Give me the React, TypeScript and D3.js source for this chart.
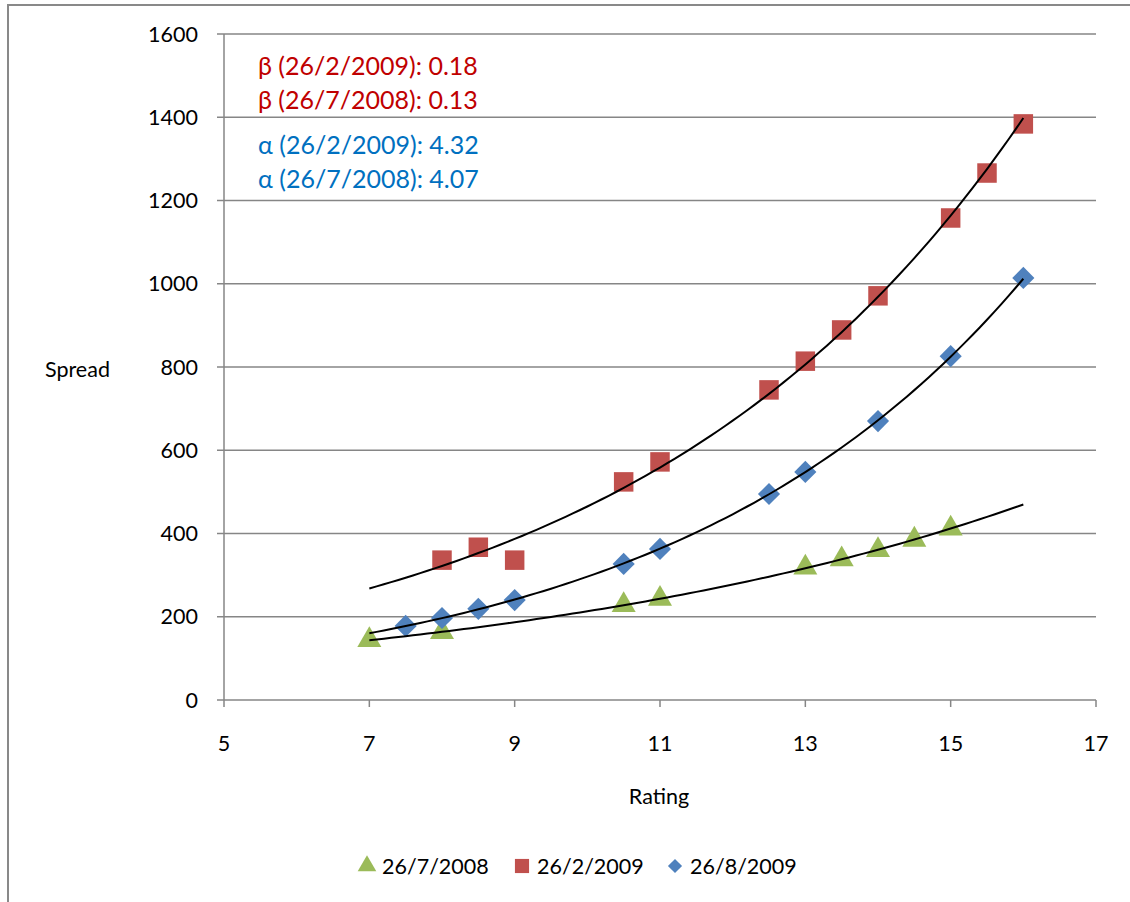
import React from 'react';
import * as d3 from 'd3';

// rating -> spread
const ratings0807 = [7, 8, 10.5, 11, 13, 13.5, 14, 14.5, 15];
const spreads0807 = [144, 163, 228, 243, 318, 338, 360, 385, 412];

const ratings0902 = [8, 8.5, 9, 10.5, 11, 12.5, 13, 13.5, 14, 15, 15.5, 16];
const spreads0902 = [336, 367, 336, 524, 572, 745, 814, 889, 971, 1158, 1266, 1384];

const ratings0908 = [7.5, 8, 8.5, 9, 10.5, 11, 12.5, 13, 14, 15, 16];
const spreads0908 = [178, 197, 219, 240, 327, 363, 495, 548, 670, 826, 1014];

const seriesNames = ['26/7/2008', '26/2/2009', '26/8/2009'];
const xTicks = [5, 7, 9, 11, 13, 15, 17];
const yTicks = [0, 200, 400, 600, 800, 1000, 1200, 1400, 1600];
const trendRange = [7, 16];

const notesRed = ['β (26/2/2009): 0.18', 'β (26/7/2008): 0.13'];
const notesBlue = ['α (26/2/2009): 4.32', 'α (26/7/2008): 4.07'];

const GREEN = '#9BBB59';
const RED = '#C0504D';
const BLUE = '#4F81BD';
const FONT = 'Lato, "Open Sans", sans-serif';

// exponential trendline, same as Excel: least squares on ln(y)
function expFit(xs: number[], ys: number[]) {
  const ly = ys.map(Math.log);
  const mx = d3.mean(xs)!;
  const my = d3.mean(ly)!;
  let num = 0, den = 0;
  xs.forEach((x, i) => {
    num += (x - mx) * (ly[i] - my);
    den += (x - mx) * (x - mx);
  });
  const b = num / den;
  const a = Math.exp(my - b * mx);
  return (x: number) => a * Math.exp(b * x);
}

export default function App() {
  const width = 1130;
  const height = 902;
  const x = d3.scaleLinear().domain([5, 17]).range([224, 1096]);
  const y = d3.scaleLinear().domain([0, 1600]).range([700, 34]);

  // diamond = square turned 45deg (d3's symbolDiamond is too narrow)
  const series = [
    { name: seriesNames[0], xs: ratings0807, ys: spreads0807, color: GREEN, shape: d3.symbolTriangle, size: 250, rot: 0, lsize: 150 },
    { name: seriesNames[1], xs: ratings0902, ys: spreads0902, color: RED, shape: d3.symbolSquare, size: 380, rot: 0, lsize: 200 },
    { name: seriesNames[2], xs: ratings0908, ys: spreads0908, color: BLUE, shape: d3.symbolSquare, size: 245, rot: 45, lsize: 100 },
  ];

  const line = d3.line<number>().x(d => x(d));
  const steps = d3.range(trendRange[0], trendRange[1] + 0.0001, 0.1);

  const legendX = [360, 515, 668];

  return (
    <svg width={width} height={height} style={{ position: 'absolute', left: 0, top: 0, background: '#fff' }}
      fontFamily={FONT}>
      <rect x={8} y={5} width={1140} height={920} fill="#fff" stroke="#898989" strokeWidth={2} />

      {/* grid + y axis */}
      {yTicks.map(t => (
        <g key={t}>
          <line x1={217} x2={1096} y1={y(t)} y2={y(t)} stroke="#868686" strokeWidth={1.5} />
          <text x={198} y={y(t) + 7.5} textAnchor="end" fontSize={21.5} fill="#000">{t}</text>
        </g>
      ))}
      <line x1={224} x2={224} y1={y(1600)} y2={y(0)} stroke="#868686" strokeWidth={1.5} />

      {/* x axis */}
      {xTicks.map(t => (
        <g key={t}>
          <line x1={x(t)} x2={x(t)} y1={700} y2={707} stroke="#868686" strokeWidth={1.5} />
          <text x={x(t)} y={751} textAnchor="middle" fontSize={21.5} fill="#000">{t}</text>
        </g>
      ))}

      <text x={45} y={377} fontSize={21.5}>Spread</text>
      <text x={659} y={804} textAnchor="middle" fontSize={21.5}>Rating</text>

      {/* markers */}
      {series.map(s => (
        <g key={s.name}>
          {s.xs.map((v, i) => (
            <path key={i} d={d3.symbol().type(s.shape).size(s.size)()!}
              transform={`translate(${x(v)},${y(s.ys[i])}) rotate(${s.rot})`} fill={s.color} />
          ))}
        </g>
      ))}

      {/* trendlines */}
      {series.map(s => {
        const f = expFit(s.xs, s.ys);
        return (
          <path key={'t' + s.name} d={line.y(d => y(f(d)))(steps)!} fill="none" stroke="#000" strokeWidth={2} />
        );
      })}

      {/* notes */}
      {notesRed.map((n, i) => (
        <text key={n} x={258} y={75 + i * 34} fontSize={25} fill="#C00000">{n}</text>
      ))}
      {notesBlue.map((n, i) => (
        <text key={n} x={258} y={154 + i * 34} fontSize={25} fill="#0070C0">{n}</text>
      ))}

      {/* legend */}
      {series.map((s, i) => (
        <g key={'l' + s.name}>
          <path d={d3.symbol().type(s.shape).size(s.lsize)()!}
            transform={`translate(${legendX[i] + 7},${866}) rotate(${s.rot})`} fill={s.color} />
          <text x={legendX[i] + 22} y={874} fontSize={21.5}>{s.name}</text>
        </g>
      ))}
    </svg>
  );
}
